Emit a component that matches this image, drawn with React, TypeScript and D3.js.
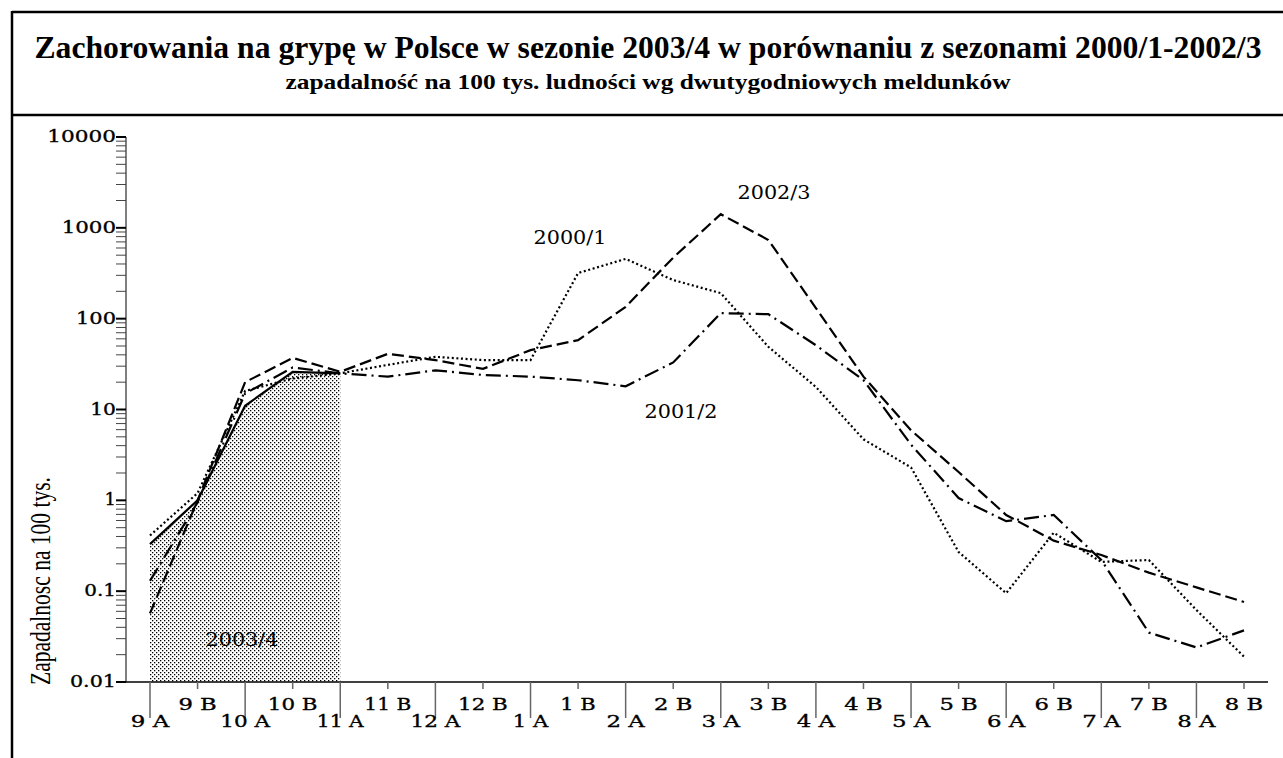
import React from "react";
import * as d3 from "d3";

const categories = ["9 A","9 B","10 A","10 B","11 A","11 B","12 A","12 B","1 A","1 B","2 A","2 B","3 A","3 B","4 A","4 B","5 A","5 B","6 A","6 B","7 A","7 B","8 A","8 B"];

const season2000_1 = [0.41, 1.2, 16, 22, 25, 31, 38, 35, 35, 318, 455, 266, 191, 49, 17.7, 4.7, 2.3, 0.27, 0.095, 0.44, 0.21, 0.22, 0.062, 0.019];
const season2001_2 = [0.13, 0.95, 15, 29, 25, 23, 27, 24, 23, 21, 18, 33, 115, 112, 51, 21, 4.1, 1.06, 0.59, 0.69, 0.22, 0.035, 0.024, 0.037];
const season2002_3 = [0.057, 1.0, 20, 37, 26, 41, 35, 28, 45, 58, 135, 470, 1413, 735, 131, 23, 5.9, 2.05, 0.69, 0.36, 0.25, 0.16, 0.11, 0.076];
const season2003_4 = [0.33, 1.0, 11, 26, 25];

const yTickValues = [0.01, 0.1, 1, 10, 100, 1000, 10000];
const yTickLabels = ["0.01", "0.1", "1", "10", "100", "1000", "10000"];

const title = "Zachorowania na grypę w Polsce w sezonie 2003/4 w porównaniu z sezonami 2000/1-2002/3";
const subtitle = "zapadalność na 100 tys. ludności wg dwutygodniowych meldunków";
const yAxisTitle = "Zapadalnosc na 100 tys.";

const W = 1283, H = 758;
const X0 = 150, X1 = 1244, Y0 = 682, Y1 = 137, AXL = 126, AXR = 1268;

function charW(c: string, digit: number) {
  if (c === "1") return digit * 0.8;
  if (/[0-9]/.test(c)) return digit;
  if (c === ".") return 6;
  if (c === "/") return 6;
  if (c === " ") return 9;
  return 15;
}
function tl(s: string, digit: number) {
  let w = 0;
  for (const c of s) w += charW(c, digit);
  return w;
}

export default function App() {
  const x = d3.scalePoint<string>().domain(categories).range([X0, X1]);
  const y = d3.scaleLog().domain([0.01, 10000]).range([Y0, Y1]);

  const line = d3.line<number>()
    .x((_, i) => x(categories[i]) as number)
    .y((d) => y(d));

  const area = d3.area<number>()
    .x((_, i) => x(categories[i]) as number)
    .y0(Y0)
    .y1((d) => y(d));

  const minor: number[] = [];
  for (let e = -2; e < 4; e++) {
    for (let m = 2; m <= 9; m++) minor.push(m * Math.pow(10, e));
  }

  const font = "'DejaVu Serif', serif";
  const heavy = { stroke: "#000", strokeWidth: 0.35 };

  return (
    <svg width={W} height={H} style={{ position: "absolute", left: 0, top: 0, background: "#fff" }}>
      <defs>
        <pattern id="stip" width="4" height="4" patternUnits="userSpaceOnUse">
          <rect width="4" height="4" fill="#fff" />
          <rect x="0" y="0" width="1.3" height="1.3" fill="#000" />
          <rect x="2" y="2" width="1.3" height="1.3" fill="#000" />
        </pattern>
      </defs>

      {/* frame */}
      <line x1={12} y1={12} x2={W} y2={12} stroke="#000" strokeWidth={2.5} />
      <line x1={12} y1={115} x2={W} y2={115} stroke="#000" strokeWidth={2.5} />
      <line x1={12} y1={11} x2={12} y2={H} stroke="#000" strokeWidth={2.5} />

      <text x={648} y={58} textAnchor="middle" fontFamily="'Liberation Serif', serif" fontWeight="bold" fontSize={31}
        textLength={1227} lengthAdjust="spacingAndGlyphs">{title}</text>
      <text x={648} y={89} textAnchor="middle" fontFamily="'Liberation Serif', serif" fontWeight="bold" fontSize={21}
        textLength={725} lengthAdjust="spacingAndGlyphs">{subtitle}</text>

      {/* shaded 2003/4 area */}
      <path d={area(season2003_4) || ""} fill="url(#stip)" stroke="none" />

      {/* y axis */}
      <line x1={AXL} y1={Y1} x2={AXL} y2={Y0} stroke="#555" strokeWidth={1.5} />
      {minor.map((v, i) => (
        <line key={"m" + i} x1={AXL - 10} x2={AXL} y1={y(v)} y2={y(v)} stroke="#444" strokeWidth={1} />
      ))}
      {yTickValues.map((v, i) => (
        <g key={"t" + i}>
          <line x1={AXL - 10} x2={AXL} y1={y(v)} y2={y(v)} stroke="#000" strokeWidth={2} />
          <text x={AXL - 10} y={y(v) + 5} textAnchor="end" fontFamily={font} fontSize={17} {...heavy}
            textLength={tl(yTickLabels[i], 14.3)} lengthAdjust="spacingAndGlyphs">{yTickLabels[i]}</text>
        </g>
      ))}
      <text transform={`translate(50,581) rotate(-90)`} textAnchor="middle" fontFamily="'Liberation Serif', serif"
        fontSize={29} textLength={208} lengthAdjust="spacingAndGlyphs">{yAxisTitle}</text>

      {/* x axis */}
      <line x1={AXL} y1={Y0} x2={AXR} y2={Y0} stroke="#000" strokeWidth={1.5} />
      {categories.map((c, i) => {
        const isA = c.endsWith("A");
        const px = x(c) as number;
        return (
          <g key={"x" + i}>
            <line x1={px} x2={px} y1={Y0} y2={isA ? 718 : 689} stroke="#666" strokeWidth={1.5} />
            <text x={px} y={isA ? 727 : 710} textAnchor="middle" fontFamily={font} fontSize={17} {...heavy}
              textLength={tl(c, 14.3)} lengthAdjust="spacingAndGlyphs">{c}</text>
          </g>
        );
      })}

      {/* series */}
      <path d={line(season2000_1) || ""} fill="none" stroke="#000" strokeWidth={2.2} strokeDasharray="2 2.6" />
      <path d={line(season2001_2) || ""} fill="none" stroke="#000" strokeWidth={2.2} strokeDasharray="15 5 2 5" />
      <path d={line(season2002_3) || ""} fill="none" stroke="#000" strokeWidth={2.2} strokeDasharray="12 5" />
      <path d={line(season2003_4) || ""} fill="none" stroke="#000" strokeWidth={2.2} />

      {/* annotations */}
      <text x={570} y={244} textAnchor="middle" fontFamily={font} fontSize={18} textLength={73} lengthAdjust="spacingAndGlyphs">2000/1</text>
      <text x={681} y={418} textAnchor="middle" fontFamily={font} fontSize={18} textLength={73} lengthAdjust="spacingAndGlyphs">2001/2</text>
      <text x={774} y={199} textAnchor="middle" fontFamily={font} fontSize={18} textLength={73} lengthAdjust="spacingAndGlyphs">2002/3</text>
      <text x={242} y={646} textAnchor="middle" fontFamily={font} fontSize={18} textLength={73} lengthAdjust="spacingAndGlyphs">2003/4</text>
    </svg>
  );
}
